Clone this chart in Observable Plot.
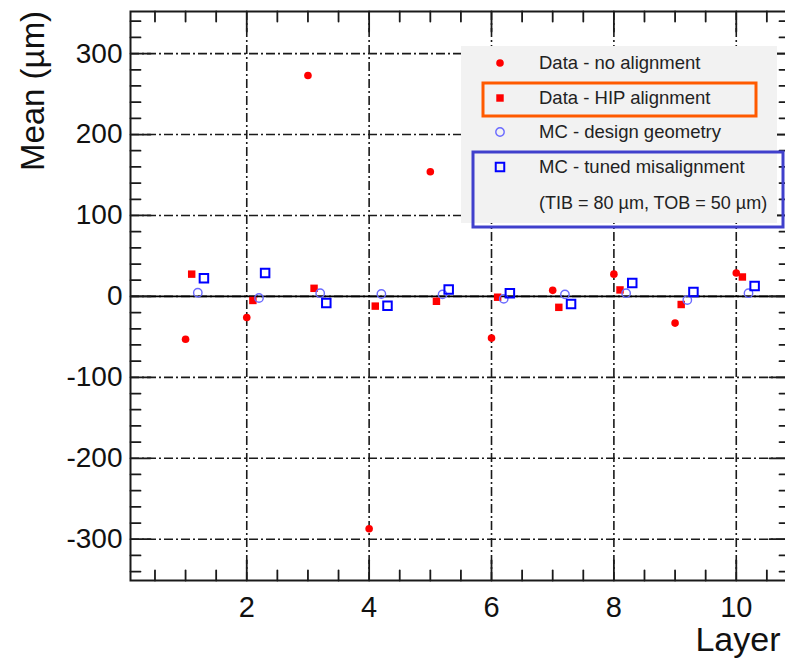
<!DOCTYPE html>
<html>
<head>
<meta charset="utf-8">
<script src="https://cdn.jsdelivr.net/npm/d3@7"></script>
<script src="https://cdn.jsdelivr.net/npm/@observablehq/plot@0.6"></script>
<style>
  html, body { margin: 0; padding: 0; background: #fff; }
  #chart { position: relative; width: 785px; height: 659px; overflow: hidden; }
  #chart svg { display: block; }
</style>
</head>
<body>
<div id="chart"></div>
<script>
// Mean residual per tracker layer (µm)
const layers = [1, 2, 3, 4, 5, 6, 7, 8, 9, 10];
const dataNoAlignment  = [-53, -26, 273, -287, 154, -51.5, 7.5, 27.5, -33, 29];
const dataHipAlignment = [27.5, -5, 10, -12, -6, -1, -13.5, 8, -10, 24];
const mcDesignGeometry = [4.5, -2, 4, 3, 2.5, -3, 2.5, 4, -4.5, 4];
const mcTunedMisalign  = [22.5, 29, -8, -11.5, 8.5, 4, -9.5, 16.5, 5.5, 13];

const xMajor = [2, 4, 6, 8, 10];
const yMajor = [-300, -200, -100, 0, 100, 200, 300];
const xMinor = d3.range(0.5, 10.51, 0.5).filter(v => v % 2 !== 0);
const yMinor = d3.range(-340, 341, 20).filter(v => v % 100 !== 0);

const legendLabels = [
  "Data - no alignment",
  "Data - HIP alignment",
  "MC - design geometry",
  "MC - tuned misalignment",
  "(TIB = 80 \u00b5m, TOB = 50 \u00b5m)"
];

// each series is shifted slightly along x so the four markers per layer don't overlap
const series = [
  {label: legendLabels[0], values: dataNoAlignment,  shift: 0.0, symbol: "circle", fill: "#ff0000", stroke: "none",    strokeWidth: 0,   r: 3.8},
  {label: legendLabels[1], values: dataHipAlignment, shift: 0.1, symbol: "square", fill: "#ff0000", stroke: "none",    strokeWidth: 0,   r: 4.2},
  {label: legendLabels[2], values: mcDesignGeometry, shift: 0.2, symbol: "circle", fill: "none",    stroke: "#6a6aff", strokeWidth: 1.4, r: 4.2},
  {label: legendLabels[3], values: mcTunedMisalign,  shift: 0.3, symbol: "square", fill: "none",    stroke: "#0000ff", strokeWidth: 2,   r: 4.8}
];

const points = s => layers.map((layer, i) => ({x: layer + s.shift, y: s.values[i]}));

// straight tick line for vector marks
const tickLine = {draw(ctx, l) { ctx.moveTo(0, 0); ctx.lineTo(0, -l); }};
const ink = "#1a1a1a";
const gridDash = "9,3,2,3";

const inwardTicks = (values, len) => [
  Plot.vectorX(values, {x: d => d, frameAnchor: "bottom", rotate: 0,   length: len, anchor: "start", shape: tickLine, stroke: ink, strokeWidth: 1.8}),
  Plot.vectorX(values, {x: d => d, frameAnchor: "top",    rotate: 180, length: len, anchor: "start", shape: tickLine, stroke: ink, strokeWidth: 1.8})
];
const inwardTicksY = (values, len) => [
  Plot.vectorY(values, {y: d => d, frameAnchor: "left",  rotate: 90,  length: len, anchor: "start", shape: tickLine, stroke: ink, strokeWidth: 1.8}),
  Plot.vectorY(values, {y: d => d, frameAnchor: "right", rotate: -90, length: len, anchor: "start", shape: tickLine, stroke: ink, strokeWidth: 1.8})
];

const plot = Plot.plot({
  width: 785,
  height: 659,
  marginLeft: 130,
  marginRight: -4,
  marginTop: 11,
  marginBottom: 79,
  style: {fontFamily: "'Liberation Sans', Arial, Helvetica, sans-serif", background: "#fff", color: "#111"},
  x: {domain: [0.1, 10.87]},
  y: {domain: [-351, 352]},
  marks: [
    Plot.gridX(xMajor, {stroke: ink, strokeOpacity: 1, strokeWidth: 1.6, strokeDasharray: gridDash}),
    Plot.gridY(yMajor, {stroke: ink, strokeOpacity: 1, strokeWidth: 1.6, strokeDasharray: gridDash}),
    Plot.ruleY([0], {stroke: "#000", strokeWidth: 1.8}),
    ...inwardTicks(xMinor, 10),
    ...inwardTicks(xMajor, 20),
    ...inwardTicksY(yMinor, 10),
    ...inwardTicksY(yMajor, 20),
    Plot.frame({stroke: ink, strokeWidth: 2}),
    Plot.axisX(xMajor, {anchor: "bottom", tickSize: 0, tickPadding: 16, fontSize: 29, label: null, tickFormat: d => String(d)}),
    Plot.axisY(yMajor, {anchor: "left", tickSize: 0, tickPadding: 8, fontSize: 28, label: null, tickFormat: d => String(d)}),
    Plot.text(["Layer"], {frameAnchor: "bottom-right", textAnchor: "end", lineAnchor: "middle", dx: -9, dy: 60, fontSize: 34, fill: "#111"}),
    Plot.text(["Mean (\u00b5m)"], {frameAnchor: "left", rotate: -90, textAnchor: "middle", lineAnchor: "middle", dx: -97, dy: -205, fontSize: 33, fill: "#111"}),
    ...series.map(s => Plot.dot(points(s), {x: "x", y: "y", symbol: s.symbol, r: s.r, fill: s.fill, stroke: s.stroke, strokeWidth: s.strokeWidth}))
  ]
});

document.getElementById("chart").appendChild(plot);

// legend panel drawn over the upper-right plot area
const svg = d3.select(plot);
const lg = svg.append("g")
  .attr("font-family", "'Liberation Sans', Arial, Helvetica, sans-serif")
  .attr("text-anchor", "start");
lg.append("rect").attr("x", 461).attr("y", 46).attr("width", 316).attr("height", 177).attr("fill", "#f2f2f2");
const rowY = [63, 98, 132, 167, 203];
const symbolPath = (s) => d3.symbol(s.symbol === "square" ? d3.symbolSquare : d3.symbolCircle, Math.PI * s.r * s.r)();
series.forEach((s, i) => {
  lg.append("path")
    .attr("transform", `translate(500,${rowY[i]})`)
    .attr("d", symbolPath(s))
    .attr("fill", s.fill)
    .attr("stroke", s.stroke)
    .attr("stroke-width", s.strokeWidth);
});
legendLabels.forEach((t, i) => {
  lg.append("text")
    .attr("x", 539).attr("y", rowY[i]).attr("dy", "0.35em")
    .attr("text-anchor", "start")
    .attr("font-size", i === 4 ? 18 : 18.5)
    .attr("fill", "#222")
    .text(t);
});
// highlight boxes around the HIP and tuned-misalignment entries
lg.append("rect").attr("x", 483).attr("y", 83).attr("width", 273).attr("height", 33)
  .attr("fill", "none").attr("stroke", "#ff5a00").attr("stroke-width", 3);
lg.append("rect").attr("x", 473).attr("y", 152).attr("width", 310).attr("height", 75)
  .attr("fill", "none").attr("stroke", "#4040cc").attr("stroke-width", 3);
</script>
</body>
</html>
